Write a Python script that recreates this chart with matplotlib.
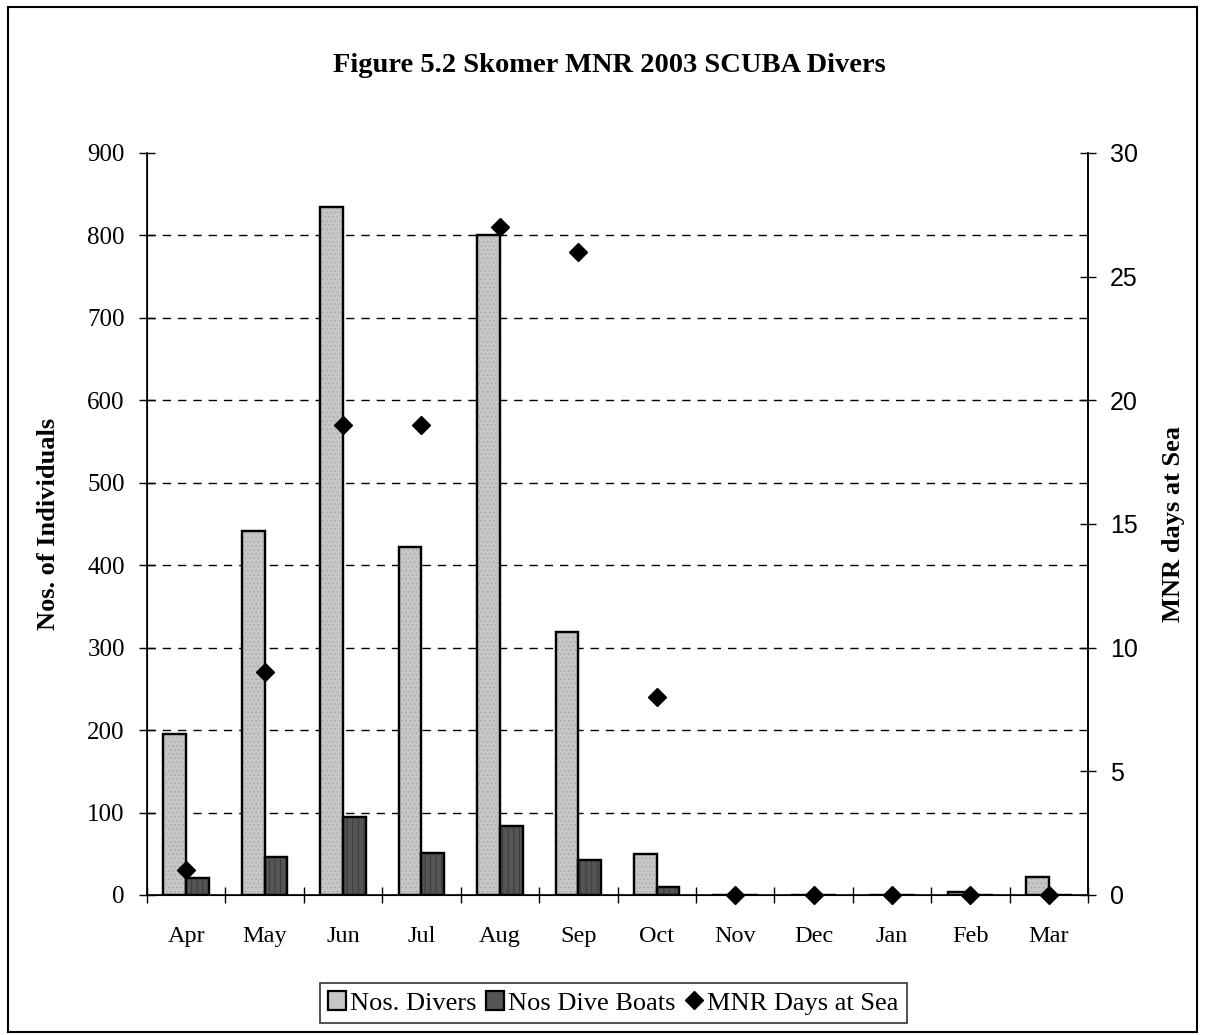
import numpy as np
import matplotlib
matplotlib.use("Agg")
import matplotlib.pyplot as plt
from matplotlib.lines import Line2D
from matplotlib.patches import Rectangle

months = ["Apr", "May", "Jun", "Jul", "Aug", "Sep", "Oct", "Nov", "Dec", "Jan", "Feb", "Mar"]
divers = [195, 442, 834, 422, 801, 319, 50, 0, 0, 0, 4, 22]
boats = [21, 46, 95, 51, 84, 42, 10, 0, 0, 0, 0, 0]
days_at_sea = [1, 9, 19, 19, 27, 26, 8, 0, 0, 0, 0, 0]

serif = "Liberation Serif"
sans = "Liberation Sans"
plt.rcParams["hatch.linewidth"] = 0.6

fig = plt.figure(figsize=(12.07, 10.35), dpi=100)
ax = fig.add_axes([0.1218, 0.1353, 0.7796, 0.7169])

x = np.arange(len(months))
w = 0.29
# bars, with a faint texture laid over them
b1 = ax.bar(x - w / 2, divers, w, color="#c6c6c6", edgecolor="black", linewidth=1.6, zorder=3)
ax.bar(x - w / 2, divers, w, color="none", edgecolor="#a8a8a8", hatch="....", linewidth=0, zorder=3.5)
b2 = ax.bar(x + w / 2, boats, w, color="#555555", edgecolor="black", linewidth=1.6, zorder=3)
ax.bar(x + w / 2, boats, w, color="none", edgecolor="#383838", hatch="|||", linewidth=0, zorder=3.5)
ax.bar(x - w / 2, divers, w, color="none", edgecolor="black", linewidth=1.6, zorder=3.6)
ax.bar(x + w / 2, boats, w, color="none", edgecolor="black", linewidth=1.6, zorder=3.6)

ax.set_xlim(-0.5, len(months) - 0.5)
ax.set_ylim(0, 900)
ax.set_yticks(np.arange(0, 901, 100))
ax.set_xticks(np.arange(len(months) + 1) - 0.5)
ax.set_xticklabels([])
ax.set_xticks(x, minor=True)
ax.set_xticklabels(months, minor=True, fontfamily=serif, fontsize=17.5)
ax.tick_params(axis="x", which="major", direction="inout", length=12, width=1)
ax.tick_params(axis="x", which="minor", length=0, pad=22)
ax.tick_params(axis="y", direction="inout", length=12, width=1, pad=10)
for lab in ax.get_yticklabels():
    lab.set_fontfamily(serif)
    lab.set_fontsize(18)

ax.yaxis.grid(True, linestyle=(0, (6, 5)), color="black", linewidth=1)
ax.set_axisbelow(True)
gl = ax.yaxis.get_gridlines()
gl[0].set_visible(False)
gl[-1].set_visible(False)

ax.spines["top"].set_visible(False)
for s in ("left", "right", "bottom"):
    ax.spines[s].set_linewidth(1.2)

ax.set_ylabel("Nos. of Individuals", fontfamily=serif, fontsize=19, fontweight="bold")
ax.yaxis.set_label_coords(-0.0925, 0.5)

ax2 = ax.twinx()
ax2.set_ylim(0, 30)
ax2.set_yticks(np.arange(0, 31, 5))
ax2.tick_params(axis="y", direction="inout", length=12, width=1, pad=10)
for lab in ax2.get_yticklabels():
    lab.set_fontfamily(sans)
    lab.set_fontsize(18)
ax2.plot(x, days_at_sea, linestyle="none", marker="D", markersize=9.5, color="black", clip_on=False, zorder=5)
ax2.spines["top"].set_visible(False)
ax2.spines["right"].set_linewidth(1.2)
ax2.set_ylabel("MNR days at Sea", fontfamily=serif, fontsize=19, fontweight="bold")
ax2.yaxis.set_label_coords(1.0786, 0.5)

fig.text(0.505, 0.937, "Figure 5.2 Skomer MNR 2003 SCUBA Divers", ha="center", va="center",
         fontfamily=serif, fontsize=20.5, fontweight="bold")

handles = [b1, b2, Line2D([], [], linestyle="none", marker="D", markersize=9.5, color="black")]
leg = fig.legend(handles, ["Nos. Divers", "Nos Dive Boats", "MNR Days at Sea"], loc="center",
                 bbox_to_anchor=(0.508, 0.031), ncol=3, frameon=True, fancybox=False,
                 edgecolor="black", handlelength=0.7, handleheight=0.7, handletextpad=0.15,
                 columnspacing=0.35, borderpad=0.3, fontsize=19)
for t in leg.get_texts():
    t.set_fontfamily(serif)
leg.get_frame().set_linewidth(1.2)

fig.patches.append(Rectangle((8 / 1207, 3 / 1035), 1189 / 1207, 1025 / 1035, transform=fig.transFigure,
                             fill=False, edgecolor="black", linewidth=1.5))

fig.savefig("out.png", dpi=100)
